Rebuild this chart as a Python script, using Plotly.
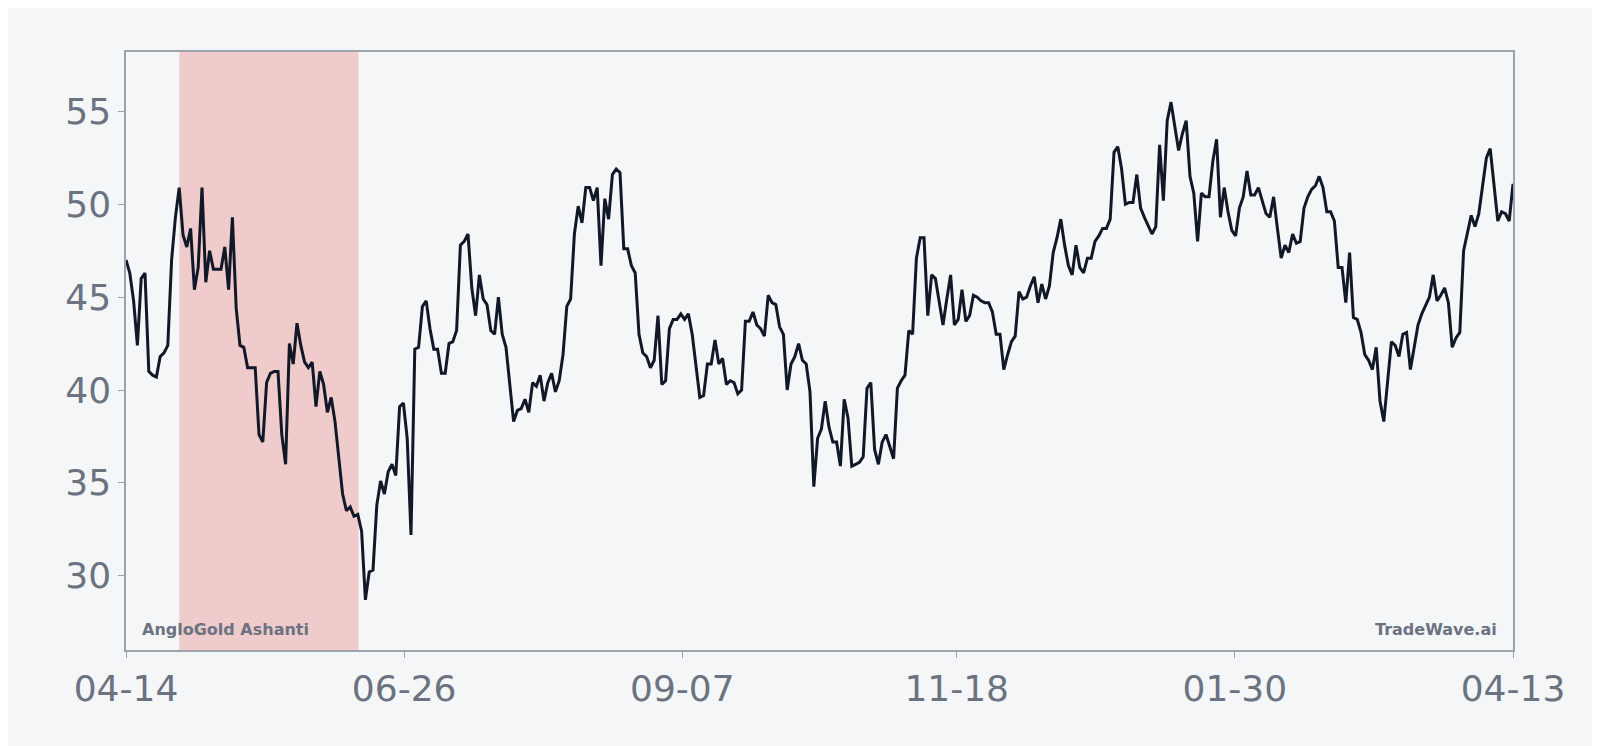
import pandas as pd
import plotly.graph_objects as go

seg0 = [47.0, 46.3, 44.8, 42.4, 46.0, 46.3, 41.0, 40.8, 40.7, 41.8, 42.0, 42.4, 47.0, 49.3, 50.9]
seg1 = [48.35, 47.7, 48.7, 45.4, 46.6, 50.9, 45.8, 47.5, 46.5, 46.5, 46.5, 47.7, 45.4, 49.3, 44.4, 42.4, 42.3,
        41.2, 41.2, 41.2, 37.6, 37.2, 40.4, 40.9, 41.0, 41.0, 37.6, 36.0, 42.5, 41.4, 43.6, 42.4, 41.5, 41.2,
        41.5, 39.1, 41.0, 40.3, 38.8, 39.6, 38.3, 36.3, 34.4, 33.5, 33.7, 33.2, 33.3, 32.4, 28.7]
seg2 = [30.2, 30.3, 33.8, 35.1, 34.4, 35.6, 36.0, 35.4, 39.1, 39.3, 37.4, 32.2, 42.2, 42.3, 44.5, 44.8, 43.3,
        42.2, 42.2, 40.9, 40.9, 42.5, 42.6, 43.2, 47.8, 48.0, 48.4, 45.5, 44.0, 46.2, 44.9, 44.6, 43.2, 43.0,
        45.0, 43.0, 42.3, 40.3, 38.3, 38.9, 39.0, 39.5, 38.8, 40.4, 40.2, 40.8, 39.4, 40.4, 40.9, 39.9, 40.5,
        41.9, 44.5, 44.9, 48.4, 49.9, 49.0, 50.9, 50.9]
seg3 = [50.2, 50.9, 46.7, 50.3, 49.2, 51.6, 51.9, 51.7, 47.6, 47.6, 46.7, 46.3, 43.0, 42.0, 41.8, 41.2, 41.6,
        44.0, 40.3, 40.5, 43.3, 43.8, 43.8, 44.1, 43.8, 44.1, 43.0, 41.4, 39.6, 39.7, 41.4, 41.4, 42.7, 41.4,
        41.7, 40.3, 40.5, 40.4, 39.8, 40.0, 43.7, 43.7, 44.2, 43.5, 43.3, 42.9, 45.1, 44.7, 44.6, 43.4, 43.0,
        40.0, 41.4, 41.8, 42.5, 41.6, 41.4, 39.9, 34.8]
seg4 = [37.4, 37.9, 39.4, 38.0, 37.2, 37.2, 35.9, 39.5, 38.5, 35.9, 36.0, 36.1, 36.4, 40.1, 40.4, 36.8, 36.0,
        37.2, 37.6, 36.9, 36.3, 40.1, 40.5, 40.8, 43.2, 43.0, 47.1, 48.2, 48.2, 44.0, 46.2, 46.0, 44.8, 43.5,
        44.9, 46.2, 43.5, 43.8, 45.4, 43.7, 44.0, 45.1, 45.0, 44.8, 44.7, 44.7, 44.2, 43.0, 43.0, 41.1, 41.9,
        42.6, 42.9, 45.3, 44.9, 45.0, 45.6, 46.1, 44.7, 45.7]
seg5 = [44.9, 45.6, 47.4, 48.2, 49.2, 47.8, 46.7, 46.2, 47.8, 46.6, 46.3, 47.1, 47.1, 48.0, 48.3, 48.7, 48.7,
        49.2, 52.8, 53.1, 51.9, 50.0, 50.1, 50.1, 51.6, 49.8, 49.3, 48.8, 48.4, 48.8, 53.2, 50.2, 54.5, 55.5,
        54.3, 52.9, 53.8, 54.5, 51.5, 50.6, 48.0, 50.6, 50.4, 50.4, 52.3, 53.5, 49.3, 50.9, 49.6, 48.6, 48.3,
        49.8, 50.4, 51.8, 50.5, 50.5, 50.9, 50.2, 49.5]
seg6 = [49.3, 50.4, 48.7, 47.1, 47.8, 47.4, 48.4, 47.9, 48.0, 49.8, 50.4, 50.8, 51.0, 51.5, 50.9, 49.6, 49.6,
        49.1, 46.6, 46.6, 44.7, 47.4, 43.9, 43.8, 43.1, 41.9, 41.6, 41.1, 42.3, 39.4, 38.3, 40.5, 42.6, 42.4,
        41.8, 43.0, 43.1, 41.1, 42.3, 43.5, 44.1, 44.6, 45.0, 46.2, 44.8, 45.1, 45.5, 44.7, 42.3, 42.8, 43.1,
        47.5, 48.5, 49.4, 48.8, 49.5, 51.0, 52.5, 53.0, 51.2, 49.1, 49.6, 49.5, 49.1, 51.1]
values = seg0 + seg1 + seg2 + seg3 + seg4 + seg5 + seg6

start, end = "2024-04-14", "2025-04-13"
dates = pd.date_range(start, end, periods=len(values))
tick_dates = ["2024-04-14", "2024-06-26", "2024-09-07", "2024-11-18", "2025-01-30", "2025-04-13"]
tick_labels = ["04-14", "06-26", "09-07", "11-18", "01-30", "04-13"]
shade = ("2024-04-28", "2024-06-14")

bg = "#f4f6f8"
fig = go.Figure()
fig.add_vrect(x0=shade[0], x1=shade[1], fillcolor="#efcbcc", opacity=1, line_width=0, layer="below")
fig.add_trace(go.Scatter(x=dates, y=values, mode="lines",
                         line=dict(color="#111827", width=3), showlegend=False))
fig.update_layout(
    width=1600, height=746, paper_bgcolor=bg, plot_bgcolor=bg,
    margin=dict(l=118, r=95, t=44, b=104),
    font=dict(family="DejaVu Sans", color="#6b7280"),
    xaxis=dict(range=[start, end], tickvals=tick_dates, ticktext=tick_labels,
               tickfont=dict(size=36, color="#6b7280"), showgrid=False, zeroline=False,
               ticks="outside", ticklen=6, tickcolor="#9ca3af", showline=True, linecolor="#9ca3af",
               linewidth=1.5, mirror=True),
    yaxis=dict(range=[26, 58.2], tickvals=[30, 35, 40, 45, 50, 55],
               tickfont=dict(size=36, color="#6b7280"), showgrid=False, zeroline=False,
               ticks="outside", ticklen=6, tickcolor="#9ca3af", showline=True, linecolor="#9ca3af",
               linewidth=1.5, mirror=True),
    annotations=[
        dict(text="<b>AngloGold Ashanti</b>", xref="paper", yref="paper", x=0.01, y=0.015,
             xanchor="left", yanchor="bottom", showarrow=False, font=dict(size=16, color="#6b7280")),
        dict(text="<b>TradeWave.ai</b>", xref="paper", yref="paper", x=0.99, y=0.015,
             xanchor="right", yanchor="bottom", showarrow=False, font=dict(size=16, color="#6b7280")),
    ],
)
fig.write_html("out.html")
